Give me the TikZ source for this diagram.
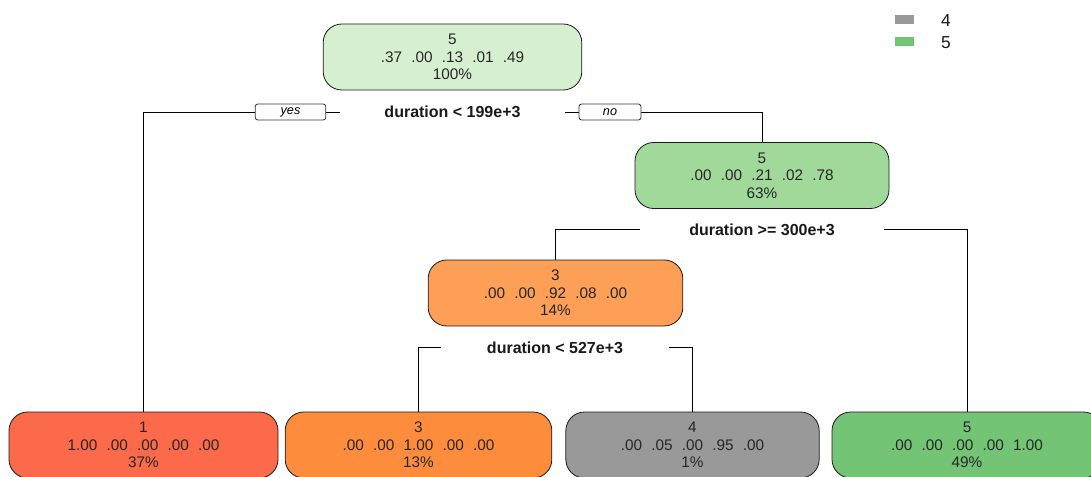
\documentclass[tikz,border=0pt]{standalone}
\usepackage{fontspec}
\setmainfont{Liberation Sans}
\definecolor{rootgreen}{HTML}{D7EFD1}
\definecolor{midgreen}{HTML}{A1D99B}
\definecolor{leafgreen}{HTML}{74C476}
\definecolor{midorange}{HTML}{FD9F56}
\definecolor{leaforange}{HTML}{FD8D3C}
\definecolor{leafred}{HTML}{FB6A4A}
\definecolor{leafgrey}{HTML}{999999}
\newcommand\colgap{\hspace{0.6em}}
\begin{document}
\begin{tikzpicture}[x=0.75pt,y=-0.75pt,line width=0.6pt,
box/.style={draw=black!90, rounded corners=14pt, align=center, text=black!85,
  inner sep=0pt, minimum height=49.5pt, font=\fontsize{11.5}{13}\selectfont},
split/.style={font=\bfseries\fontsize{12}{13}\selectfont, text=black!90, inner sep=0pt, minimum height=10pt},
tag/.style={draw=black!80, fill=white, rounded corners=2pt, font=\itshape\fontsize{9.5}{10}\selectfont,
  minimum width=53pt, minimum height=12pt, inner sep=0pt},
key/.style={minimum width=14.25pt, minimum height=6.75pt, inner sep=0pt}]
\useasboundingbox (0,0) rectangle (1091,477);
\node[box, fill=rootgreen, minimum width=194pt] (root) at (452.5,57)
  {5\\.37\colgap.00\colgap.13\colgap.01\colgap.49\\100\%};
\node[box, fill=midgreen, minimum width=190.5pt] (n2) at (762,175.5)
  {5\\.00\colgap.00\colgap.21\colgap.02\colgap.78\\63\%};
\node[box, fill=midorange, minimum width=191pt] (n3) at (555.5,293)
  {3\\.00\colgap.00\colgap.92\colgap.08\colgap.00\\14\%};
\node[box, fill=leafred, minimum width=201.75pt] (l1) at (143.5,445)
  {1\\1.00\colgap.00\colgap.00\colgap.00\colgap.00\\37\%};
\node[box, fill=leaforange, minimum width=200pt] (l2) at (418.5,445)
  {3\\.00\colgap.00\colgap1.00\colgap.00\colgap.00\\13\%};
\node[box, fill=leafgrey, minimum width=190pt] (l3) at (692.5,445)
  {4\\.00\colgap.05\colgap.00\colgap.95\colgap.00\\1\%};
\node[box, fill=leafgreen, minimum width=202.5pt] (l4) at (967,445)
  {5\\.00\colgap.00\colgap.00\colgap.00\colgap1.00\\49\%};
\node[split, minimum width=168.75pt] (s1) at (452.5,112) {duration < 199e+3};
\node[split, minimum width=183pt] (s2) at (762,229.5) {duration >= 300e+3};
\node[split, minimum width=171pt] (s3) at (555,347.5) {duration < 527e+3};
\draw (s1.west) -| (l1.north);
\draw (s1.east) -| (n2.north);
\draw (s2.west) -| (n3.north);
\draw (s2.east) -| (l4.north);
\draw (s3.west) -| (l2.north);
\draw (s3.east) -| (l3.north);
\node[tag] (yes) at (290.5,112) {yes};
\node[tag, minimum width=46.5pt] (no) at (610,112) {no};
\node[key, fill=leafgrey] (k4) at (904,19.5) {};
\node[key, fill=leafgreen] (k5) at (904,41.5) {};
\node[font=\fontsize{13}{14}\selectfont, text=black!90, inner sep=0pt] (t4) at (946,21) {4};
\node[font=\fontsize{13}{14}\selectfont, text=black!90, inner sep=0pt] (t5) at (946,43) {5};
\end{tikzpicture}
\end{document}
